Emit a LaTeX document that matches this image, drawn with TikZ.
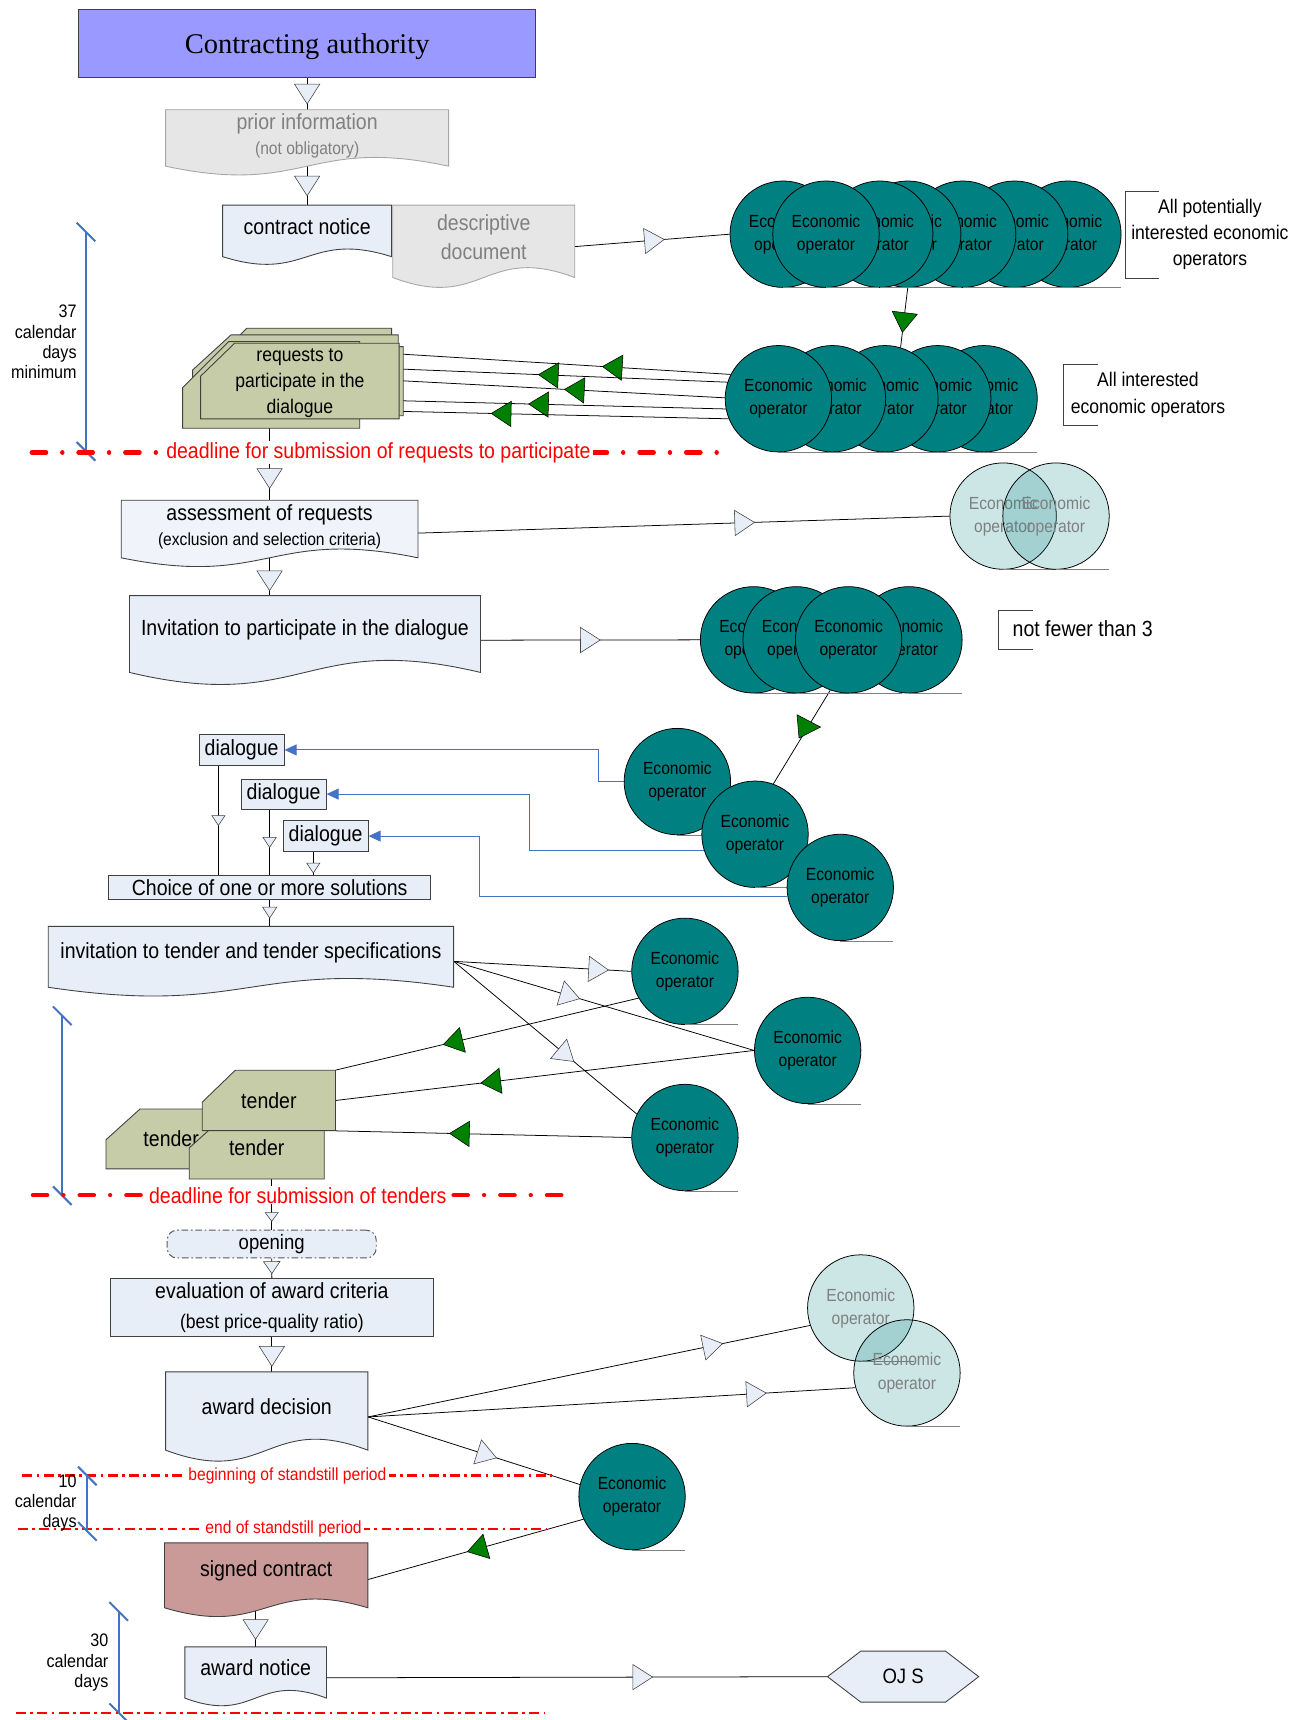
\documentclass[tikz,border=0pt]{standalone}
\usepackage{fontspec}
\setmainfont{Liberation Sans}[FakeStretch=0.89]
\newfontfamily\serifCA{Liberation Serif}
\usetikzlibrary{decorations.markings,arrows.meta,calc}
\pgfdeclarelayer{bg}
\pgfsetlayers{bg,main}
\definecolor{teal2}{HTML}{008080}
\definecolor{docfill}{HTML}{E8EEF7}
\definecolor{docfill2}{HTML}{F0F4FA}
\definecolor{grayfill}{HTML}{E6E6E6}
\definecolor{grayline}{HTML}{A6A6A6}
\definecolor{graytext}{HTML}{808080}
\definecolor{cardfill}{HTML}{C6CCA7}
\definecolor{cafill}{HTML}{9999FF}
\definecolor{rose}{HTML}{C99A97}
\definecolor{tlblue}{HTML}{4472C4}
\definecolor{gr}{HTML}{008000}
\definecolor{edge}{HTML}{404040}
\newcommand\fsz[2]{\fontsize{#1}{#2}\selectfont}
\newcommand\docsh[9]{%
 \path[#1] (#3,#4) -- (#5,#4) -- (#5,#6) .. controls ({(#3+#5)/2},{#6-3.46*#7}) and ({(#3+#5)/2},{#6+3.46*#7}) .. (#3,#6) -- cycle;
 \node[align=center, minimum width={(#5-#3)*1pt}, minimum height={(#6-#4-8)*1pt}, #8] (#2) at ({(#3+#5)/2},{(#4+#6)/2-4}) {#9};}
\newcommand\crd[9]{%
 \filldraw[cardst] ({#2+#6},#3) -- (#4,#3) -- (#4,#5) -- (#2,#5) -- (#2,{#3+#7}) -- cycle;
 \node[align=center, minimum width={(#4-#2)*1pt}, minimum height={(#5-#3)*1pt}, #8] (#1) at ({(#2+#4)/2},{(#3+#5)/2}) {#9};}
\newcommand\eoc[4][eo]{\node[#1] (#2) at (#3,#4) {Economic\\operator}; \draw[ground] (#2.south) -- ++(48.5,0);}
\newcommand\tmline[3]{\draw[tlst] (#1,#2) -- (#1,#3); \draw[tlst] ({#1-8.5},{#2-8.5}) -- ({#1+8.5},{#2+8.5}); \draw[tlst] ({#1-8.5},{#3-8.5}) -- ({#1+8.5},{#3+8.5});}
\tikzset{
 tri/.style n args={4}{postaction={decorate,decoration={markings,mark=at position #1 with {\filldraw[#2,line width=0.5pt] (0pt,0pt) -- (-#3pt,#4pt) -- (-#3pt,-#4pt) -- cycle;}}}},
 ltri/.style={tri={#1}{fill=docfill,draw=edge}{18}{11.5}},
 gtri/.style={tri={#1}{fill=gr,draw=black}{18}{11.5}},
 stri/.style={tri={#1}{fill=docfill,draw=edge}{9}{6}},
 conn/.style={draw=black, line width=0.7pt},
 bconn/.style={draw=tlblue, line width=0.9pt, -{Triangle[length=11pt,width=10pt]}},
 eo/.style={circle, minimum size=97pt, inner sep=0pt, fill=teal2, draw=black, line width=0.7pt, align=center, font=\fsz{16}{21}},
 leo/.style={eo, fill opacity=0.2, text opacity=1, text=graytext},
 ground/.style={draw=gray, line width=0.8pt},
 cardst/.style={fill=cardfill, draw=edge, line width=0.8pt},
 bluedoc/.style={fill=docfill, draw=edge, line width=0.8pt},
 graydoc/.style={fill=grayfill, draw=grayline, line width=0.8pt},
 rbox/.style={draw=edge, fill=docfill, line width=0.8pt, font=\fsz{20}{24}},
 deadl/.style={draw=red, line width=4pt, line cap=round, dash pattern=on 13pt off 14.8pt on 0.01pt off 14.8pt},
 ssl/.style={draw=red, line width=2pt, dash pattern=on 9pt off 4pt on 2.5pt off 4pt},
 dlab/.style={fill=white, text=red, inner xsep=2pt, inner ysep=1pt},
 tlst/.style={draw=tlblue, line width=1.8pt},
 brk/.style={draw=edge, line width=0.9pt},
 tltext/.style={align=right, anchor=east, font=\fsz{16.5}{18.5}},
 f20/.style={font=\fsz{20}{24}},
}
\begin{document}
\begin{tikzpicture}[x=1pt,y=-1pt, every node/.append style={inner sep=0pt}]
\useasboundingbox (0,0) rectangle (1192,1568);

% ---- top
\node[draw=edge, fill=cafill, line width=0.9pt, minimum width=416pt, minimum height=62pt, text height=24pt, text depth=5.7pt, font=\serifCA\fsz{26}{30}] (ca) at (280,40) {Contracting authority};
\docsh{graydoc}{pi}{151}{100}{409}{151.5}{8}{text=graytext, font=\fsz{20}{23}, yshift=-2pt}{prior information\\\fsz{16}{23}(not obligatory)}
\docsh{bluedoc}{cn}{203}{187}{357}{234}{7}{f20}{contract notice}
\docsh{graydoc}{dd}{358}{187}{524}{253}{9}{text=graytext, font=\fsz{20}{26}}{descriptive\\document}

% ---- group 1
\eoc{g1g}{973.5}{213.5}
\eoc{g1f}{925}{213.5}
\eoc{g1e}{877.6}{213.5}
\eoc{g1d}{827.5}{213.5}
\eoc{g1c}{802}{213.5}
\eoc{g1a}{714}{213.5}
\eoc{g1b}{753}{213.5}
\node[font=\fsz{18}{23.5}, align=center] (b1) at (1103,213.5) {All potentially\\interested economic\\operators};
\draw[brk] (1057,174.7) -- (1026.4,174.7) -- (1026.4,253.7) -- (1057,253.7);

% ---- group 2
\eoc{g2e}{897.1}{363.5}
\eoc{g2d}{854.9}{363.5}
\eoc{g2c}{806.7}{363.5}
\eoc{g2b}{758.9}{363.5}
\eoc{g2a}{709.6}{363.5}
\node[font=\fsz{18}{24}, align=center] (b2) at (1046.5,360) {All interested\\economic operators};
\draw[brk] (1000.6,332) -- (969.8,332) -- (969.8,388) -- (1000.6,388);

% ---- requests cards
\crd{rqa}{200}{299.2}{357}{340}{25}{25}{}{}
\crd{rqb}{175.6}{305.3}{363}{363}{35}{32}{}{}
\crd{rqc}{166.5}{311.4}{328}{390.4}{42}{42}{}{}
\crd{rqe}{190}{316}{367.6}{379}{30}{30}{}{}
\crd{req}{182.9}{312.9}{363.9}{381.9}{31}{30}{font=\fsz{18}{24}, yshift=-2pt}{requests to\\participate in the\\dialogue}

% ---- timeline 1 and deadline 1
\tmline{78.4}{211.5}{411.5}
\node[tltext] (t37) at (70,311.7) {37\\calendar\\days\\minimum};
\draw[deadl] (29,412.5) -- (655,412.5);
\node[dlab, font=\fsz{20}{24}] (dl1) at (345,412.5) {deadline for submission of requests to participate};

% ---- assessment
\docsh{fill=docfill2, draw=edge, line width=0.8pt}{as}{110.5}{456}{381}{508.5}{8}{font=\fsz{20}{23}, yshift=-2pt}{assessment of requests\\\fsz{16}{23}(exclusion and selection criteria)}
\eoc[leo]{lg1}{914.5}{470.5}
\eoc[leo]{lg2}{962.7}{470.5}

% ---- invitation to participate
\docsh{bluedoc}{ip}{118}{543}{438}{613}{11}{f20}{Invitation to participate in the dialogue}
\eoc{g3d}{828.6}{583.3}
\eoc{g3a}{687}{583.3}
\eoc{g3b}{725.8}{583.3}
\eoc{g3c}{773.6}{583.3}
\node[font=\fsz{20}{24}] (b3) at (987,573) {not fewer than 3};
\draw[brk] (941.6,556.8) -- (910.4,556.8) -- (910.4,591.8) -- (941.6,591.8);

% ---- dialogue
\eoc{c1}{617.5}{712.5}
\eoc{c2}{688.3}{760.5}
\eoc{c3}{766}{809}
\node[rbox, minimum width=77.5pt, minimum height=28.3pt] (d1) at (220.25,683.65) {dialogue};
\node[rbox, minimum width=77.5pt, minimum height=27.4pt] (d2) at (258.55,723.9) {dialogue};
\node[rbox, minimum width=77.6pt, minimum height=28pt] (d3) at (296.8,762.2) {dialogue};
\node[rbox, minimum width=293.1pt, minimum height=22.2pt] (ch) at (245.85,809.1) {Choice of one or more solutions};

% ---- tender
\docsh{bluedoc}{itt}{44}{844.5}{413.5}{900}{8}{f20}{invitation to tender and tender specifications}
\eoc{ea}{624.4}{885.5}
\eoc{eb}{736.3}{957.6}
\eoc{ec}{624.4}{1037}
\crd{t0}{96.6}{1011}{215.5}{1065.6}{31}{28}{f20}{tender}
\crd{t2}{172.5}{1018.5}{295.6}{1074.8}{31}{28}{f20}{tender}
\crd{t1}{184.4}{975.7}{305.9}{1030.7}{30}{29}{f20}{tender}
\tmline{56.8}{926}{1090}
\draw[deadl] (30,1089.6) -- (512,1089.6);
\node[dlab, font=\fsz{20}{24}] (dl2) at (271.5,1089.6) {deadline for submission of tenders};

% ---- opening, evaluation, award
\node[draw=gray!70!black, fill=docfill, rounded corners=9pt, dash pattern=on 6pt off 2.5pt on 1.5pt off 2.5pt, line width=0.9pt, minimum width=190.6pt, minimum height=25.3pt, font=\fsz{19}{22}] (op) at (247.7,1134.15) {opening};
\node[rbox, minimum width=294.7pt, minimum height=52.6pt, align=center, font=\fsz{20}{27}] (ev) at (247.85,1191.9) {evaluation of award criteria\\\fsz{18}{27}(best price-quality ratio)};
\docsh{bluedoc}{ad}{151}{1250.6}{335.4}{1322}{10}{f20}{award decision}
\eoc[leo]{ld}{784.7}{1192.4}
\eoc[leo]{le}{826.8}{1251.6}
\eoc{ef}{576.2}{1364.3}

% ---- standstill
\draw[ssl] (20.3,1345.1) -- (502.8,1345.1);
\node[dlab, font=\fsz{16}{20}] (ss1) at (262,1345.1) {beginning of standstill period};
\draw[ssl] (16.3,1393.7) -- (498.6,1393.7);
\node[dlab, font=\fsz{16}{20}] (ss2) at (258.5,1393.7) {end of standstill period};
\tmline{79.6}{1345.5}{1396}
\node[tltext] (t10) at (70,1370.3) {10\\calendar\\days};

\docsh{fill=rose, draw=edge, line width=0.8pt}{sc}{150}{1406.5}{335.4}{1465.7}{8}{f20}{signed contract}
\docsh{bluedoc}{an}{168.5}{1501.3}{297.6}{1548}{7}{f20}{award notice}
\filldraw[fill=docfill, draw=edge, line width=0.8pt] (754.4,1528.5) -- (784.7,1505.2) -- (862,1505.2) -- (892.2,1528.5) -- (862,1551.7) -- (784.7,1551.7) -- cycle;
\node[minimum width=137.8pt, minimum height=46.5pt, font=\fsz{19}{22}] (oj) at (823.3,1528.5) {OJ S};
\tmline{108.2}{1469}{1561.4}
\node[tltext] (t30) at (99,1515.7) {30\\calendar\\days};
\draw[ssl] (14.5,1561.4) -- (497,1561.4);

% ---- connectors
\coordinate (d1o) at ($(d1.south west)+(18,0)$);
\coordinate (d2o) at ($(d2.south west)+(26.4,0)$);
\coordinate (d3o) at ($(d3.south west)+(28,0)$);
\begin{pgfonlayer}{bg}
\fill[white] (0,0) rectangle (1192,1568);
\draw[conn, ltri=0.768] (ca.south) -- (pi.north);
\draw[conn, ltri=0.798] (pi.south) -- (cn.north);
\draw[conn, ltri=0.577] ([yshift=-8.8pt]dd.east) -- (g1a.west);
\draw[conn, gtri=0.746] (g1d.south) -- (g2c.73);
\draw[conn, gtri=0.387] (g2a.153) -- ([yshift=-8pt]req.north east);
\draw[conn, gtri=0.576] (g2a.162) -- ([yshift=-21.7pt]req.north east);
\draw[conn, gtri=0.4925] (g2a.179) -- ([yshift=-32.3pt]req.north east);
\draw[conn, gtri=0.604] (g2a.191) -- ([yshift=-50.6pt]req.north east);
\draw[conn, gtri=0.721] (g2a.202) -- ([yshift=-60.3pt]req.north east);
\draw[conn, ltri=0.829] (as.north |- req.south) -- (as.north);
\draw[conn, ltri=0.633] ([yshift=-5.75pt]as.east) -- (lg1.west);
\draw[conn, ltri=0.891] (as.south) -- (as.south |- ip.north);
\draw[conn, ltri=0.545] ([yshift=-9.6pt]ip.east) -- (g3a.west);
\draw[conn] (c2.70) -- (g3c.250);
\filldraw[fill=gr, draw=black, line width=0.5pt] (726.6,651.6) -- (748,662.8) -- (728.4,672.8) -- cycle;
\draw[bconn] (c1.west) -- ++(-23,0) |- (d1.east);
\draw[bconn] (c2.198) -- ++(-158.9,0) |- (d2.east);
\draw[bconn] (c3.190) -- ++(-281,0) |- (d3.east);
\draw[conn, stri=0.546] (d1o) -- (d1o |- ch.north);
\draw[conn, stri=0.578] (d2o) -- (d2o |- ch.north);
\draw[conn, stri=0.917] (d3o) -- (d3o |- ch.north);
\draw[conn, tri={0.687}{fill=docfill,draw=edge}{10}{6.5}] (ch.south) -- (ch.south |- itt.north);
\coordinate (itto) at ([yshift=-8.15pt]itt.east);
\draw[conn, ltri=0.871] (itto) -- (ea.west);
\draw[conn, ltri=0.419] (itto) -- (eb.west);
\draw[conn, ltri=0.656] (itto) -- (ec.154);
\draw[conn, gtri=0.645] (ea.210) -- (t1.north east);
\draw[conn, gtri=0.653] (eb.west) -- (t1.east);
\draw[conn, gtri=0.615] (ec.west) -- (t1.south east);
\draw[conn, tri={0.833}{fill=docfill,draw=edge}{8}{6}] (op.north |- t2.south) -- (op.north);
\draw[conn, tri={0.77}{fill=docfill,draw=edge}{11}{7.5}] (op.south) -- (ev.north);
\draw[conn, ltri=0.843] (ev.south) -- (ev.south |- ad.north);
\coordinate (ado) at ([yshift=-9.4pt]ad.east);
\draw[conn, ltri=0.802] (ado) -- (ld.199);
\draw[conn, ltri=0.817] (ado) -- (le.196);
\draw[conn, ltri=0.606] (ado) -- (ef.167);
\draw[conn, gtri=0.539] (ef.205) -- ([yshift=-7.8pt]sc.east);
\draw[conn, ltri=0.846] (an.north |- sc.south) -- (an.north);
\draw[conn, ltri=0.651] ([yshift=-8.85pt]an.east) -- (oj.west);
\end{pgfonlayer}
\end{tikzpicture}
\end{document}
